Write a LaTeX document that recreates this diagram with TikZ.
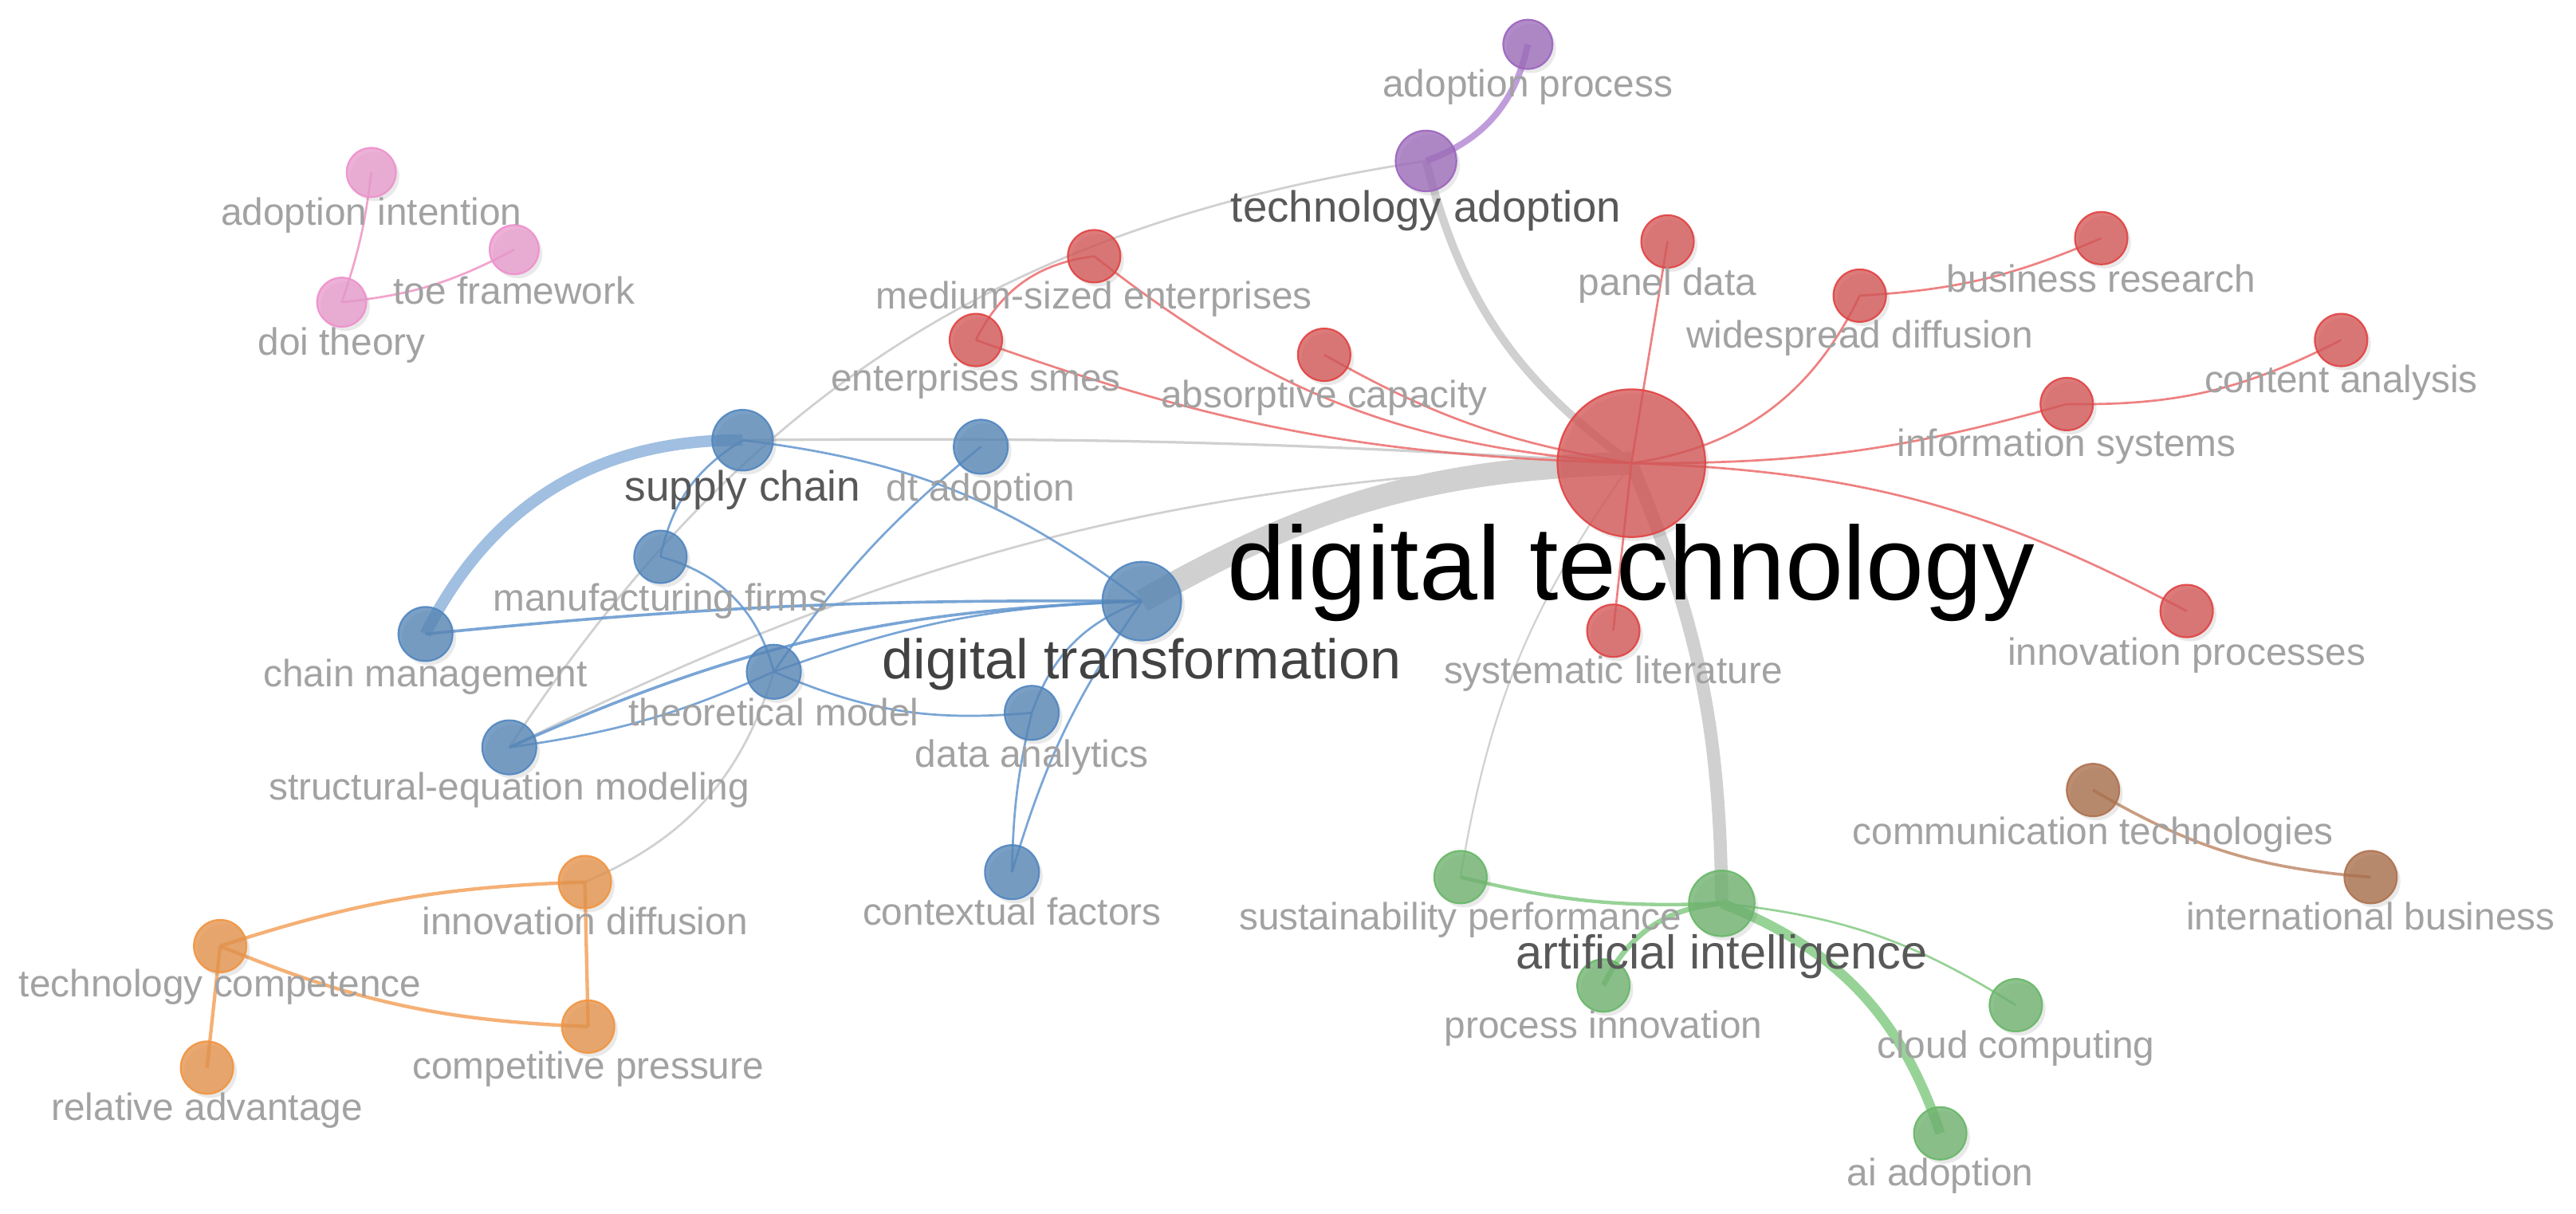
\documentclass[tikz,border=0pt]{standalone}
\usepackage{fontspec}
\setmainfont{Liberation Sans}
\usetikzlibrary{shadows}
\pgfdeclarelayer{bg}
\pgfsetlayers{bg,main}
% node fills / borders
\definecolor{nred}{RGB}{212,86,86}\definecolor{bred}{RGB}{226,66,66}
\definecolor{nblue}{RGB}{86,134,182}\definecolor{bblue}{RGB}{80,134,192}
\definecolor{npurple}{RGB}{156,108,186}\definecolor{bpurple}{RGB}{156,100,190}
\definecolor{npink}{RGB}{232,154,204}\definecolor{bpink}{RGB}{238,144,204}
\definecolor{norange}{RGB}{228,146,74}\definecolor{borange}{RGB}{242,148,64}
\definecolor{ngreen}{RGB}{110,178,110}\definecolor{bgreen}{RGB}{104,184,104}
\definecolor{nbrown}{RGB}{170,110,74}\definecolor{bbrown}{RGB}{174,114,80}
% edges
\definecolor{ered}{RGB}{236,108,108}
\definecolor{eblue}{RGB}{98,150,206}
\definecolor{egray}{RGB}{208,208,208}
\definecolor{eorange}{RGB}{245,168,102}
\definecolor{egreen}{RGB}{140,206,140}
\definecolor{epurple}{RGB}{186,146,216}
\definecolor{epink}{RGB}{240,155,200}
\definecolor{ebrown}{RGB}{196,146,116}
% labels
\definecolor{lgray}{RGB}{162,162,162}
\definecolor{lmid}{RGB}{88,88,88}
\definecolor{ldark}{RGB}{66,66,66}
\begin{document}
\begin{tikzpicture}[x=0.02cm, y=-0.02cm,
  nd/.style={circle, inner sep=0pt, line width=0.6pt, fill opacity=0.78, draw opacity=0.9,
    drop shadow={shadow xshift=1.2pt, shadow yshift=-1.4pt, opacity=0.14, fill=black!60}},
  cred/.style={nd, fill=nred, draw=bred},
  cblue/.style={nd, fill=nblue, draw=bblue},
  cpurple/.style={nd, fill=npurple, draw=bpurple},
  cpink/.style={nd, fill=npink, draw=bpink},
  corange/.style={nd, fill=norange, draw=borange},
  cgreen/.style={nd, fill=ngreen, draw=bgreen},
  cbrown/.style={nd, fill=nbrown, draw=bbrown},
  lab/.style={anchor=base, inner sep=0pt, text=lgray, font=\fontsize{13.2}{15}\selectfont},
  labm/.style={anchor=base, inner sep=0pt, text=lmid},
  e/.style={line width=0.75pt},
  er/.style={e, draw=ered, draw opacity=0.85},
  eb/.style={e, draw=eblue, draw opacity=0.85},
  eg/.style={e, draw=egray},
  eo/.style={e, draw=eorange, line width=1.2pt, draw opacity=0.9},
  egr/.style={e, draw=egreen, draw opacity=0.9},
  ep/.style={e, draw=epurple, draw opacity=0.9},
  epk/.style={e, draw=epink, draw opacity=0.9},
  ebr/.style={e, draw=ebrown, line width=1pt, draw opacity=0.9}
]
\useasboundingbox (0,0) rectangle (1568,739);
\begin{pgfonlayer}{bg}
\fill[white] (0,0) rectangle (1568,739);
\end{pgfonlayer}

% ---------- nodes ----------
% purple
\node[cpurple, minimum size=15*0.04cm] (adoptproc) at (930,27) {};
\node[cpurple, minimum size=18.5*0.04cm] (techad) at (868,98) {};
% pink
\node[cpink, minimum size=15*0.04cm] (adoptint) at (226,105) {};
\node[cpink, minimum size=15*0.04cm] (toe) at (313,152) {};
\node[cpink, minimum size=15*0.04cm] (doi) at (208,184) {};
% red
\node[cred, minimum size=45*0.04cm] (dt) at (993,282) {};
\node[cred, minimum size=16*0.04cm] (med) at (666,156) {};
\node[cred, minimum size=16*0.04cm] (smes) at (594,207) {};
\node[cred, minimum size=16*0.04cm] (absorp) at (806,216) {};
\node[cred, minimum size=16*0.04cm] (panel) at (1015,147) {};
\node[cred, minimum size=16*0.04cm] (widesp) at (1132,180) {};
\node[cred, minimum size=16*0.04cm] (busres) at (1279,145) {};
\node[cred, minimum size=16*0.04cm] (content) at (1425,207) {};
\node[cred, minimum size=16*0.04cm] (infosys) at (1258,246) {};
\node[cred, minimum size=16*0.04cm] (innovproc) at (1331,372) {};
\node[cred, minimum size=16*0.04cm] (systlit) at (982,384) {};
% blue
\node[cblue, minimum size=18.5*0.04cm] (supply) at (452,268) {};
\node[cblue, minimum size=16.5*0.04cm] (dtadopt) at (597,272) {};
\node[cblue, minimum size=16*0.04cm] (manuf) at (402,339) {};
\node[cblue, minimum size=16.5*0.04cm] (chainm) at (259,386) {};
\node[cblue, minimum size=24*0.04cm] (dtt) at (695,366) {};
\node[cblue, minimum size=16.5*0.04cm] (theo) at (471,409) {};
\node[cblue, minimum size=16.5*0.04cm] (dataan) at (628,434) {};
\node[cblue, minimum size=16.5*0.04cm] (sem) at (310,455) {};
\node[cblue, minimum size=16.5*0.04cm] (context) at (616,531) {};
% orange
\node[corange, minimum size=16*0.04cm] (innovdiff) at (356,537) {};
\node[corange, minimum size=16*0.04cm] (techcomp) at (134,576) {};
\node[corange, minimum size=16*0.04cm] (comppress) at (358,625) {};
\node[corange, minimum size=16*0.04cm] (reladv) at (126,650) {};
% green
\node[cgreen, minimum size=20*0.04cm] (ai) at (1048,550) {};
\node[cgreen, minimum size=16*0.04cm] (sustain) at (889,534) {};
\node[cgreen, minimum size=16*0.04cm] (procinno) at (976,600) {};
\node[cgreen, minimum size=16*0.04cm] (cloud) at (1227,612) {};
\node[cgreen, minimum size=16*0.04cm] (aiadopt) at (1181,690) {};
% brown
\node[cbrown, minimum size=16*0.04cm] (commtech) at (1274,481) {};
\node[cbrown, minimum size=16*0.04cm] (intlbus) at (1443,534) {};

% ---------- edges (behind nodes) ----------
\begin{pgfonlayer}{bg}
% gray links between clusters
\draw[eg, line width=2.8pt] (techad.center) to[bend right=20] (dt.center);
\draw[eg, line width=8pt] (dtt.center) to[bend left=14] (dt.center);
\draw[eg, line width=4.5pt] (dt.center) to[bend left=11] (ai.center);
\draw[eg, line width=0.9pt] (supply.center) to[bend left=2] (dt.center);
\draw[eg] (sem.center) to[bend left=12] (dt.center);
\draw[eg] (techad.center) to[bend right=24] (sem.center);
\draw[eg] (innovdiff.center) to[bend right=25] (theo.center);
\draw[eg, line width=0.6pt] (sustain.center) to[bend left=13] (dt.center);
% red
\draw[er] (smes.center) to[bend right=9] (dt.center);
\draw[er] (med.center) to[bend right=17] (dt.center);
\draw[er] (absorp.center) to[bend right=10] (dt.center);
\draw[er] (smes.center) to[bend left=28] (med.center);
\draw[er] (dt.center) -- (panel.center);
\draw[er] (dt.center) to[bend right=28] (widesp.center);
\draw[er] (widesp.center) to[bend right=10] (busres.center);
\draw[er] (dt.center) to[bend right=8] (infosys.center);
\draw[er] (infosys.center) to[bend right=14] (content.center);
\draw[er] (dt.center) to[bend left=13] (innovproc.center);
\draw[er] (dt.center) -- (systlit.center);
% purple
\draw[ep, line width=2.2pt] (techad.center) to[bend right=29] (adoptproc.center);
% pink
\draw[epk] (adoptint.center) to[bend left=6] (doi.center);
\draw[epk] (doi.center) to[bend right=11] (toe.center);
% blue
\draw[eb, line width=4pt, draw=eblue!75, draw opacity=0.8] (supply.center) to[bend right=32] (chainm.center);
\draw[eb] (supply.center) to[bend right=23] (manuf.center);
\draw[eb] (supply.center) to[bend left=15] (dtt.center);
\draw[eb] (manuf.center) to[bend left=30] (theo.center);
\draw[eb] (dtadopt.center) to[bend right=8] (theo.center);
\draw[eb, line width=1pt] (chainm.center) to[bend left=3] (dtt.center);
\draw[eb, line width=1pt] (sem.center) to[bend left=11] (dtt.center);
\draw[eb] (sem.center) to[bend right=8] (theo.center);
\draw[eb] (theo.center) to[bend left=9] (dtt.center);
\draw[eb] (theo.center) to[bend right=14] (dataan.center);
\draw[eb] (dataan.center) to[bend left=25] (dtt.center);
\draw[eb] (context.center) to[bend left=6] (dataan.center);
\draw[eb] (context.center) to[bend left=9] (dtt.center);
% orange
\draw[eo] (techcomp.center) to[bend left=8] (innovdiff.center);
\draw[eo] (techcomp.center) to[bend right=10] (comppress.center);
\draw[eo] (innovdiff.center) -- (comppress.center);
\draw[eo] (techcomp.center) -- (reladv.center);
% green
\draw[egr, line width=1.2pt] (sustain.center) to[bend right=8] (ai.center);
\draw[egr, line width=1.8pt] (ai.center) to[bend right=30] (procinno.center);
\draw[egr] (ai.center) to[bend left=13] (cloud.center);
\draw[egr, line width=3.4pt] (ai.center) to[bend left=25] (aiadopt.center);
% brown
\draw[ebr] (commtech.center) to[bend right=13] (intlbus.center);
\end{pgfonlayer}

% ---------- labels ----------
\node[lab] (l-adoptproc) at (930,59) {adoption process};
\node[labm, font=\fontsize{15.1}{17}\selectfont] (l-techad) at (868,135) {technology adoption};
\node[lab] (l-adoptint) at (226,137) {adoption intention};
\node[lab] (l-toe) at (313,185) {toe framework};
\node[lab] (l-doi) at (208,216) {doi theory};
\node[lab] (l-med) at (666,188) {medium-sized enterprises};
\node[lab] (l-smes) at (594,238) {enterprises smes};
\node[lab] (l-absorp) at (806,248) {absorptive capacity};
\node[lab] (l-panel) at (1015,180) {panel data};
\node[lab] (l-widesp) at (1132,212) {widespread diffusion};
\node[lab] (l-busres) at (1279,178) {business research};
\node[lab] (l-content) at (1425,239) {content analysis};
\node[lab] (l-infosys) at (1258,278) {information systems};
\node[lab] (l-innovproc) at (1331,405) {innovation processes};
\node[lab] (l-systlit) at (982,416) {systematic literature};
\node[anchor=base, inner sep=0pt, text=black, font=\fontsize{36.2}{40}\selectfont] (l-dt) at (993,365) {digital technology};
\node[labm, font=\fontsize{14.7}{17}\selectfont] (l-supply) at (452,305) {supply chain};
\node[lab] (l-dtadopt) at (597,305) {dt adoption};
\node[lab] (l-manuf) at (402,372) {manufacturing firms};
\node[lab] (l-chainm) at (259,418) {chain management};
\node[anchor=base, inner sep=0pt, text=ldark, font=\fontsize{19.35}{22}\selectfont] (l-dtt) at (695,413) {digital transformation};
\node[lab] (l-theo) at (471,442) {theoretical model};
\node[lab] (l-dataan) at (628,467) {data analytics};
\node[lab] (l-sem) at (310,487) {structural-equation modeling};
\node[lab] (l-context) at (616,563) {contextual factors};
\node[lab] (l-innovdiff) at (356,569) {innovation diffusion};
\node[lab] (l-techcomp) at (134,607) {technology competence};
\node[lab] (l-comppress) at (358,657) {competitive pressure};
\node[lab] (l-reladv) at (126,682) {relative advantage};
\node[labm, font=\fontsize{16.45}{19}\selectfont] (l-ai) at (1048,590) {artificial intelligence};
\node[lab] (l-sustain) at (889,566) {sustainability performance};
\node[lab] (l-procinno) at (976,632) {process innovation};
\node[lab] (l-cloud) at (1227,644) {cloud computing};
\node[lab] (l-aiadopt) at (1181,722) {ai adoption};
\node[lab] (l-commtech) at (1274,514) {communication technologies};
\node[lab] (l-intlbus) at (1443,566) {international business};
\end{tikzpicture}
\end{document}
